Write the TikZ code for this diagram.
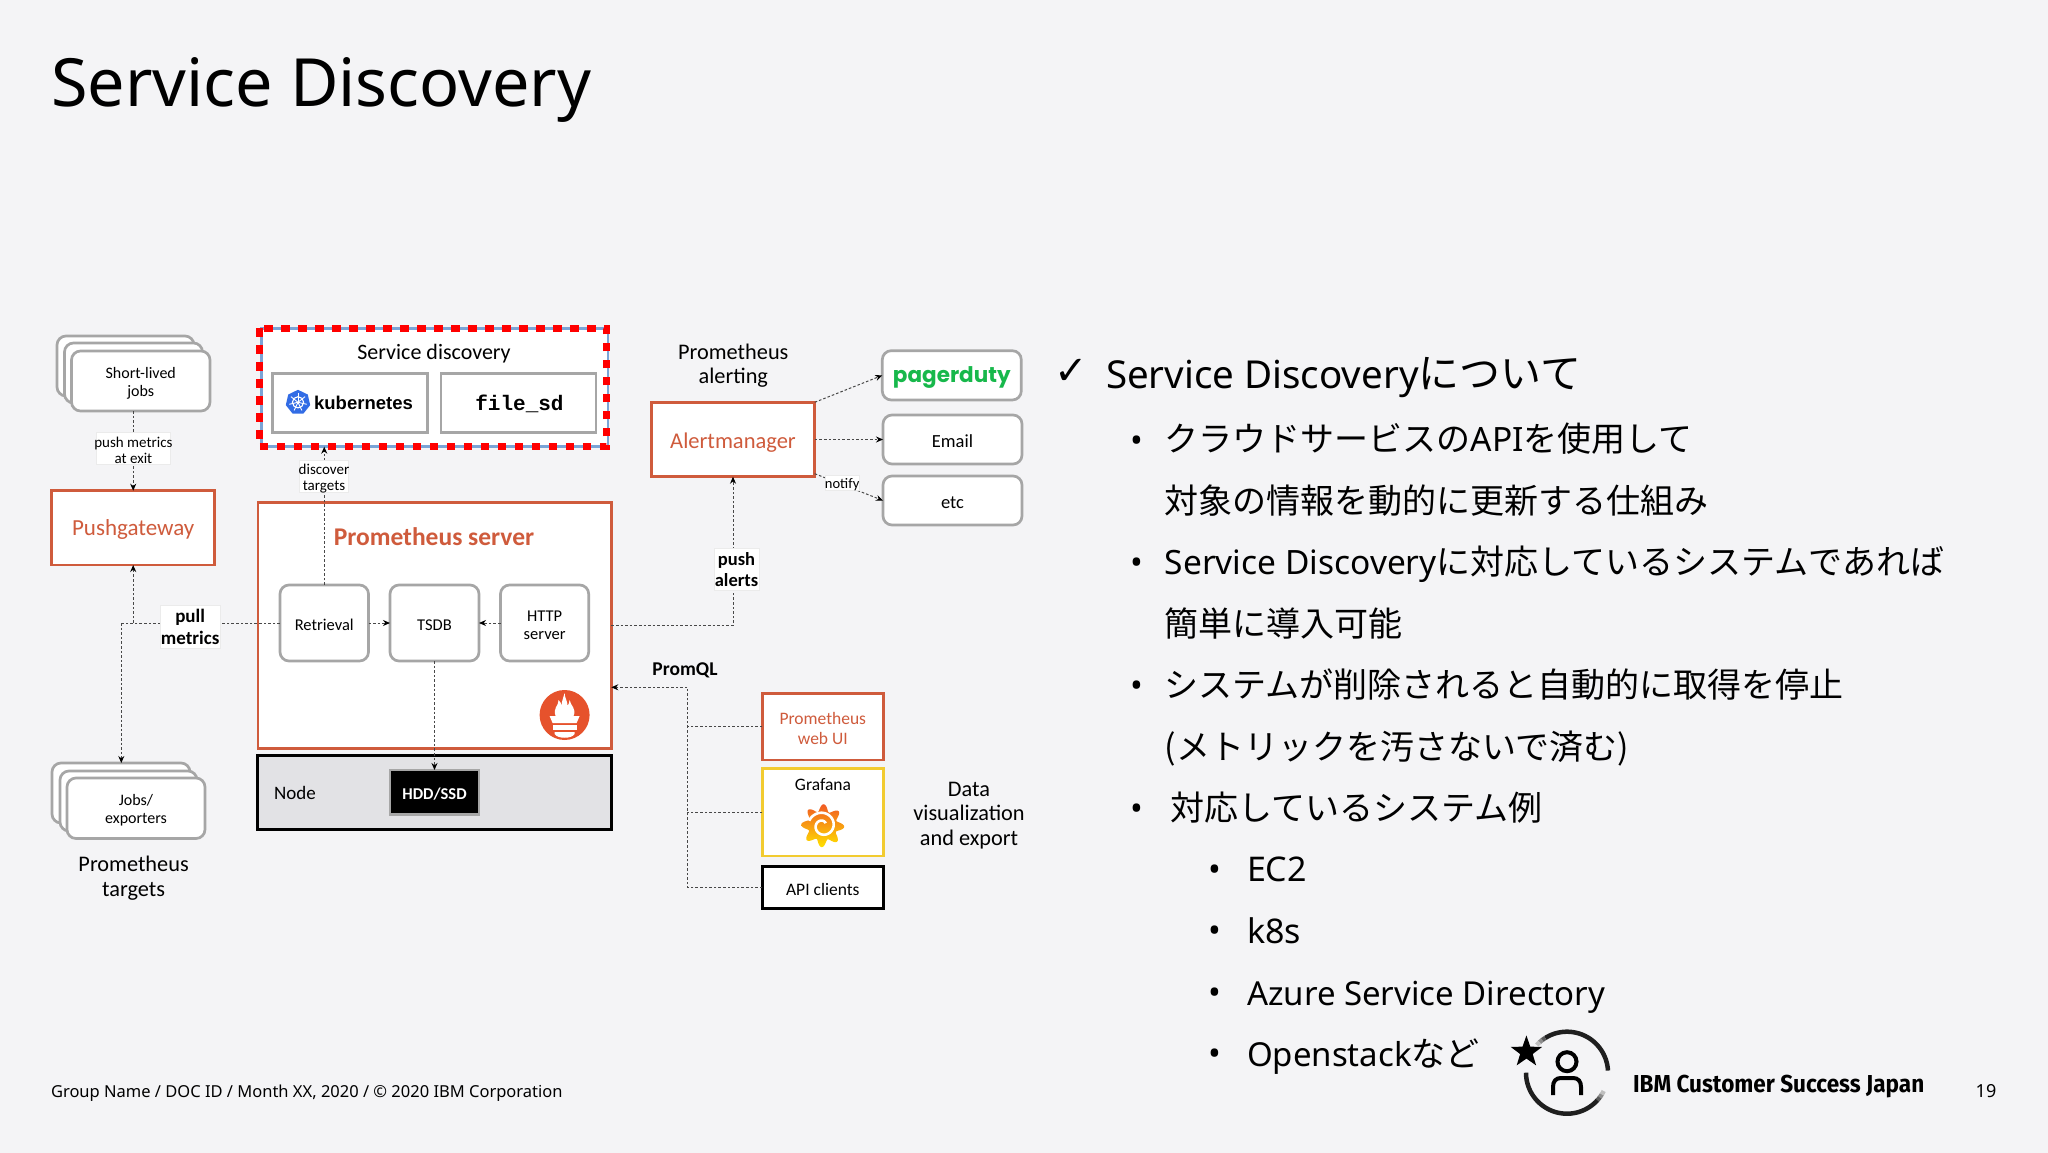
\documentclass[tikz,border=0pt]{standalone}
\usepackage{fontspec}
\usetikzlibrary{arrows.meta,shapes.geometric}
\setmainfont{Noto Sans}
\newfontfamily\dg{Carlito}
\newfontfamily\jp{Noto Sans CJK JP}
\newfontfamily\djv{DejaVu Sans}
\newfontfamily\lmono{Liberation Mono}
\newfontfamily\lsans{Liberation Sans}
\newfontfamily\pop{Poppins}
\newfontfamily\fira{Fira Sans}
\newcommand{\fsz}[2]{\fontsize{#1}{#2}\selectfont}
\definecolor{bgc}{HTML}{F4F4F6}
\definecolor{promo}{HTML}{CF5B3C}
\definecolor{gline}{HTML}{A6A6A6}
\definecolor{flowc}{HTML}{484848}
\definecolor{grafy}{HTML}{F2CB30}
\definecolor{pdg}{HTML}{17B84B}
\definecolor{nodeg}{HTML}{E2E2E5}
\definecolor{sdblue}{HTML}{7BA4D6}
\definecolor{k8s}{HTML}{326CE5}
\definecolor{flame}{HTML}{E6522C}
\definecolor{grtop}{HTML}{F15A24}
\definecolor{grbot}{HTML}{FFE100}
\newcommand{\tdrop}{-2pt}
\newcommand{\rectnode}[7]{%
  \node[basebox,#1,minimum width={#5-#3},minimum height={#6-#4}] (#2) at ({(#3+#5)/2},{(#4+#6)/2}) {};%
  \node[basebox,#1,draw=none,fill=none] (#2-t) at ([yshift=\tdrop]#2.center) {#7};}
\tikzset{
  basebox/.style={inner sep=0pt,outer sep=0pt,align=center,text=black},
  gbox/.style={draw=gline,line width=2.7pt,fill=white,rounded corners=9pt},
  sqbox/.style={draw=gline,line width=2.7pt,fill=white},
  obox/.style={draw=promo,line width=2.6pt,fill=white,text=promo},
  kbox/.style={draw=black,line width=2.7pt,fill=white},
  tagbox/.style={fill=white,draw=black!8,line width=0.6pt},
  flow/.style={draw=flowc,line width=1pt,dash pattern=on 2.6pt off 2pt},
  arr/.style={flow,-{Stealth[length=7pt,width=6pt,color=black]}},
  txt/.style={inner sep=0pt,outer sep=0pt,align=center,text=black},
  dtxt/.style={txt,font=\dg\fsz{22.3}{24.5}},
  pt/.style={txt,anchor=base west,font=\fsz{34}{34}\jp},
  bul/.style={txt,font=\fsz{34}{34}},
  ring/.style={line width=4.5pt}
}
\begin{document}
\begin{tikzpicture}[x=1pt,y=-1pt]
\useasboundingbox (0,0) rectangle (2048,1153);
\fill[bgc] (0,0) rectangle (2048,1153);
\node[txt,anchor=base west,font=\fsz{66.5}{66}] (title) at (51,107) {Service Discovery};

% ---- stacks
\rectnode{gbox}{sa}{57}{336}{194}{396}{}
\rectnode{gbox}{sb}{64.5}{343}{202.5}{403}{}
\rectnode{gbox,font=\dg\fsz{16}{18}}{sc}{71.5}{351}{210}{411}{Short-lived\\jobs}
\rectnode{gbox}{ja}{52}{763}{190}{823}{}
\rectnode{gbox}{jb}{60}{771}{197}{831}{}
\rectnode{gbox,font=\dg\fsz{16}{18}}{jc}{67}{778}{205}{838.5}{Jobs/\\exporters}
\node[dtxt] (ptargets) at (133.6,878) {Prometheus\\targets};

% ---- pushgateway
\rectnode{obox,font=\dg\fsz{23}{25}}{pg}{51.7}{490.7}{214.7}{565}{Pushgateway}

% ---- service discovery
\rectnode{draw=sdblue,line width=2.5pt,fill=white}{sd}{261.3}{328.3}{608}{446.7}{}
\node[txt,font=\dg\fsz{22}{24}] (sdtitle) at (434,354) {Service discovery};
\rectnode{sqbox}{kub}{272.4}{373.3}{427.4}{432.3}{}
\rectnode{sqbox}{fsd}{441}{373.3}{596}{432.3}{}
\node[txt,font=\lsans\bfseries\fsz{18.5}{20}] (kubname) at (363.5,403) {kubernetes};
\node[txt,font=\lmono\bfseries\fsz{21}{22}] (fsdname) at (519.5,404) {file\_sd};
\draw[red,line width=7.5pt,dash pattern=on 8.5pt off 8.5pt] ([xshift=-2pt]sd.north west) rectangle ([xshift=-1.5pt]sd.south east);
% kubernetes wheel
\fill[k8s] plot[domain=0:360,samples=8] ({298+12.5*cos(\x+90)},{402.3-12.5*sin(\x+90)}) -- cycle;
\draw[white,line width=1.1pt] (298,402.3) circle (5.6pt);
\foreach \k in {0,...,6}{
  \draw[white,line width=0.9pt] (298,402.3) -- ({298+9*cos(90+\k*51.43)},{402.3-9*sin(90+\k*51.43)});
}

% ---- server
\rectnode{draw=promo,line width=2.6pt,fill=white}{srv}{257.8}{502.3}{611.3}{748.7}{}
\node[txt,text=promo,font=\dg\bfseries\fsz{25.5}{28}] (srvtitle) at (434,536.7) {Prometheus server};
\rectnode{gbox,font=\dg\fsz{16.5}{18}}{retr}{280}{585}{368.5}{661}{Retrieval}
\rectnode{gbox,font=\dg\fsz{16.5}{18}}{tsdb}{390}{585}{479}{661}{TSDB}
\rectnode{gbox,font=\dg\fsz{16.5}{18}}{http}{500.5}{585}{588.7}{661}{HTTP\\server}
% prometheus logo
\begin{scope}[shift={(564.6,715)}]
  \fill[flame] (0,0) circle (25pt);
  \fill[white] (-9,1) .. controls (-12,-7) and (-6,-9) .. (-6,-15)
     .. controls (-4,-13) and (-3,-11) .. (-3,-9)
     .. controls (-3,-14) and (-1,-18) .. (0,-22)
     .. controls (0,-17) and (3,-14) .. (3,-9)
     .. controls (4,-11) and (5,-13) .. (5,-15)
     .. controls (6,-9) and (12,-7) .. (9,1) -- cycle;
  \fill[white] (-15,1) -- (15,1) -- (12,8) -- (-12,8) -- cycle;
  \fill[white] (-12,10) rectangle (12,15);
  \fill[white] (-10,17) rectangle (10,19) (-10,19) .. controls (-7,24) and (7,24) .. (10,19) -- cycle;
\end{scope}

% ---- node
\rectnode{draw=black,line width=2.7pt,fill=nodeg}{nd}{257.8}{755.3}{611.3}{829.3}{}
\node[txt,font=\dg\fsz{19}{21}] (ndlabel) at (295,793.3) {Node};
\rectnode{draw=gline,line width=2.7pt,fill=black,text=white,font=\dg\bfseries\fsz{16.5}{18}}{hdd}{390}{770}{479}{814.3}{HDD/SSD}

% ---- alerting
\node[dtxt] (alt) at (733.3,365.5) {Prometheus\\alerting};
\rectnode{obox}{am}{651.3}{402.3}{814.7}{476.7}{}
\node[txt,text=promo,font=\dg\fsz{22.5}{25}] (amname) at (733,442.5) {Alertmanager};
\rectnode{gbox,text=pdg,font=\pop\bfseries\fsz{21.5}{25}}{pd}{882.3}{350.7}{1021.3}{400}{pagerduty}
\rectnode{gbox,font=\dg\fsz{18.5}{21}}{email}{883}{415}{1022}{464}{Email}
\rectnode{gbox,font=\dg\fsz{18.5}{21}}{etc}{883}{476}{1022}{525}{etc}

% ---- data visualisation
\rectnode{obox,font=\dg\fsz{17.5}{19.5}}{web}{762.3}{693.3}{883.3}{760}{Prometheus\\web UI}
\rectnode{draw=grafy,line width=2.6pt,fill=white}{graf}{762.3}{768.3}{883.3}{856}{}
\node[txt,font=\dg\fsz{17.5}{19.5}] (grafname) at (823,785) {Grafana};
\shade[top color=grtop,bottom color=grbot] plot[domain=0:360,samples=121] ({822.7+(18+3.5*cos(8*\x+22))*cos(\x)},{825.7-(18+3.5*cos(8*\x+22))*sin(\x)}) -- cycle;
\draw[white,line width=2.6pt] plot[domain=40:520,samples=60] ({822.7+(3+\x*0.022)*cos(\x)},{825.7-(3+\x*0.022)*sin(\x)});
\rectnode{kbox,font=\dg\fsz{17.5}{19.5}}{api}{762.3}{866.7}{883.3}{908.3}{API clients}
\node[dtxt] (datat) at (969,815.5) {Data\\visualization\\and export};

% ---- connectors
\coordinate (pm) at (121.3,623);
\coordinate (pb) at (pg.south |- retr.west);
\coordinate (qin) at (611.3,687.3);
\coordinate (qbus) at (687.3,687.3);
\draw[flow] (retr.west) -- (pm);
\draw[arr] (pm) -- (pm |- ja.north);
\draw[arr] (pb) -- (pg.south);
\draw[arr] (sc.south -| pg.north) -- (pg.north);
\draw[arr] (retr.north) -- (retr.north |- sd.south);
\draw[arr] (retr.east) -- (tsdb.west);
\draw[arr] (http.west) -- (tsdb.east);
\draw[arr] (tsdb.south) -- (hdd.north);
\draw[arr] (srv.east) -| (am.south);
\draw[arr] (am.north east) -- (pd.west);
\draw[arr] (am.east) -- (email.west);
\draw[arr] ([yshift=3pt]am.south east) -- (etc.west);
\draw[flow] (web.west) -- (qbus |- web.west);
\draw[flow] (graf.west) -- (qbus |- graf.west);
\draw[flow] (api.west) -- (qbus |- api.west) -- (qbus);
\draw[arr] (qbus) -- (qin);

% ---- connector tags
\rectnode{tagbox,font=\dg\fsz{15}{15.3}}{tpush}{96.4}{432.7}{170.4}{464}{push metrics\\at exit}
\rectnode{tagbox,font=\dg\fsz{15}{15.5}}{tdisc}{299.7}{460.7}{348.3}{492}{discover\\targets}
\renewcommand{\tdrop}{0pt}
\rectnode{tagbox,font=\dg\bfseries\fsz{19}{21.5}}{tpull}{160.5}{605.7}{219.8}{648.3}{pull\\metrics}
\rectnode{tagbox,font=\dg\bfseries\fsz{18.5}{21}}{talert}{714}{548.3}{759}{590}{push\\alerts}
\renewcommand{\tdrop}{-2pt}
\rectnode{tagbox,font=\dg\fsz{14.5}{16}}{tnotify}{825}{475}{859.3}{490}{notify}
\node[txt,font=\dg\bfseries\fsz{19.5}{21}] (promql) at (685,670) {PromQL};

% ---- right-hand text
\node[txt,font=\djv\fsz{40}{40}] (chk) at (1071,372) {✓};
\node[txt,anchor=base west,font=\fsz{38.5}{38}] (h1) at (1106,388) {Service Discovery{\fsz{41}{38}\jp について}};
\node[bul] (b1) at (1137,444) {•};
\node[pt] (l1) at (1164.7,451.5) {クラウドサービスの{\rmfamily\fsz{33.5}{34}API}を使用して};
\node[pt] (l2) at (1164.7,513) {対象の情報を動的に更新する仕組み};
\node[bul] (b2) at (1137,566) {•};
\node[pt] (l3) at (1164.7,574) {{\rmfamily\fsz{33.5}{34}Service Discovery}に対応しているシステムであれば};
\node[pt] (l4) at (1164.7,636) {簡単に導入可能};
\node[bul] (b3) at (1137,689) {•};
\node[pt] (l5) at (1164.7,697.5) {システムが削除されると自動的に取得を停止};
\node[pt] (l6) at (1164.7,759) {(メトリックを汚さないで済む)};
\node[bul] (b4) at (1137,812) {•};
\node[pt] (l7) at (1170.7,820.5) {対応しているシステム例};
\node[bul] (b5) at (1215,873) {•};
\node[pt,font=\fsz{34}{34}] (s1) at (1247,881.5) {EC2};
\node[bul] (b6) at (1215,934) {•};
\node[pt,font=\fsz{34}{34}] (s2) at (1247,943) {k8s};
\node[bul] (b7) at (1215,996) {•};
\node[pt,font=\fsz{33}{34}] (s3) at (1247,1005) {Azure Service Directory};
\node[bul] (b8) at (1215,1057) {•};
\node[pt,font=\fsz{33}{34}] (s4) at (1247,1066.5) {Openstack{\fsz{34}{34}\jp など}};

% ---- footer
\node[txt,anchor=base west,font=\fsz{16.5}{18}] (foot) at (51,1097.5) {Group Name / DOC ID / Month XX, 2020 / © 2020 IBM Corporation};
\node[txt,anchor=base west,font=\fira\bfseries\fsz{24.5}{26}] (ibm) at (1633,1092.5) {\scalebox{0.92}[1]{IBM Customer Success Japan}};
\node[txt,font=\fsz{18}{20}] (pg19) at (1986,1091.5) {19};

% ---- customer-success badge
\draw[black!88,ring] plot[domain=3:122,samples=40] ({1567+41*cos(\x)},{1072.7-41*sin(\x)});
\draw[black!88,ring] plot[domain=180:318,samples=40] ({1567+41*cos(\x)},{1072.7-41*sin(\x)});
\foreach \a/\c in {122/65,127/45,132/25}{
  \draw[black!\c,ring] plot[domain=\a:\a+5.5,samples=4] ({1567+41*cos(\x)},{1072.7-41*sin(\x)});
}
\foreach \a/\c in {318/65,323/45,328/25}{
  \draw[black!\c,ring] plot[domain=\a:\a+5.5,samples=4] ({1567+41*cos(\x)},{1072.7-41*sin(\x)});
}
\node[star,star points=5,star point ratio=2.5,fill=black,inner sep=0pt,minimum size=33pt] (badge) at (1526.4,1052) {};
\draw[line width=4pt] (1567,1061.7) circle (9.5pt);
\draw[line width=4pt] (1553,1095) -- (1553,1087) .. controls (1553,1081) and (1556,1078) .. (1561,1078) -- (1573,1078) .. controls (1578,1078) and (1581,1081) .. (1581,1087) -- (1581,1095);
\end{tikzpicture}
\end{document}
